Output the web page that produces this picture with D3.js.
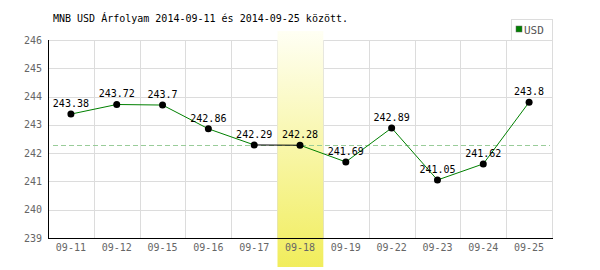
<!DOCTYPE html>
<html>
<head>
<meta charset="utf-8">
<script src="https://cdn.jsdelivr.net/npm/d3@7"></script>
<style>
  body { margin: 0; background: #fff; }
  svg text { font-family: "DejaVu Sans Mono", monospace; }
</style>
</head>
<body>
<svg id="chart"></svg>
<script>
// adatok
const dates = ["09-11", "09-12", "09-15", "09-16", "09-17", "09-18", "09-19", "09-22", "09-23", "09-24", "09-25"];
const rates = [243.38, 243.72, 243.7, 242.86, 242.29, 242.28, 241.69, 242.89, 241.05, 241.62, 243.8];
const yTicks = [239, 240, 241, 242, 243, 244, 245, 246];
const highlightDate = "09-18";
const refRate = 242.28;

const width = 600, height = 270;
const plotLeft = 48, plotRight = 552, plotTop = 40, plotBottom = 238;

const svg = d3.select("#chart").attr("width", width).attr("height", height);

const x = d3.scaleBand().domain(dates).range([plotLeft, plotRight]);
const y = d3.scaleLinear().domain([239, 246]).range([plotBottom, plotTop]);

// rácsvonalak
svg.append("g")
  .selectAll("line")
  .data(yTicks)
  .enter()
  .append("line")
  .attr("x1", plotLeft).attr("x2", plotRight)
  .attr("y1", d => Math.round(y(d)) + 0.5).attr("y2", d => Math.round(y(d)) + 0.5)
  .attr("stroke", "#dcdcdc");

svg.append("g")
  .selectAll("line")
  .data(dates)
  .enter()
  .append("line")
  .attr("x1", d => Math.round(x(d) + x.bandwidth()) + 0.5)
  .attr("x2", d => Math.round(x(d) + x.bandwidth()) + 0.5)
  .attr("y1", plotTop).attr("y2", plotBottom)
  .attr("stroke", "#dcdcdc");

// kiemelt nap
const grad = svg.append("defs").append("linearGradient")
  .attr("id", "hl").attr("x1", 0).attr("y1", 0).attr("x2", 0).attr("y2", 1);
grad.append("stop").attr("offset", "0%").attr("stop-color", "#fffff4");
grad.append("stop").attr("offset", "100%").attr("stop-color", "#f1ed5c");

svg.append("rect")
  .attr("x", Math.round(x(highlightDate)) + 0.5)
  .attr("y", 31)
  .attr("width", x.bandwidth())
  .attr("height", 236)
  .attr("fill", "url(#hl)");

// tengelyek
svg.append("line")
  .attr("x1", plotLeft + 0.5).attr("x2", plotLeft + 0.5)
  .attr("y1", plotTop).attr("y2", plotBottom + 1)
  .attr("stroke", "#000");
svg.append("line")
  .attr("x1", plotLeft).attr("x2", plotRight + 1)
  .attr("y1", plotBottom + 0.5).attr("y2", plotBottom + 0.5)
  .attr("stroke", "#000");

svg.append("g")
  .selectAll("text")
  .data(yTicks)
  .enter()
  .append("text")
  .attr("x", 42)
  .attr("y", d => y(d) + 3.5)
  .attr("text-anchor", "end")
  .attr("font-size", 10)
  .attr("fill", "#666")
  .text(d => d);

svg.append("g")
  .selectAll("text")
  .data(dates)
  .enter()
  .append("text")
  .attr("x", d => x(d) + x.bandwidth() / 2)
  .attr("y", 251)
  .attr("text-anchor", "middle")
  .attr("font-size", 10)
  .attr("fill", "#666")
  .text(d => d);

// referencia vonal
svg.append("line")
  .attr("x1", 53).attr("x2", 550)
  .attr("y1", Math.round(y(refRate)) + 0.5).attr("y2", Math.round(y(refRate)) + 0.5)
  .attr("stroke", "#99cc99")
  .attr("stroke-dasharray", "5,3");

// vonal szakaszok
const pts = dates.map((d, i) => ({ d: d, v: rates[i] }));
const hi = dates.indexOf(highlightDate);
svg.append("g")
  .selectAll("line")
  .data(pts.slice(1))
  .enter()
  .append("line")
  .attr("x1", (p, i) => x(pts[i].d) + x.bandwidth() / 2)
  .attr("y1", (p, i) => y(pts[i].v))
  .attr("x2", p => x(p.d) + x.bandwidth() / 2)
  .attr("y2", p => y(p.v))
  .attr("stroke", (p, i) => (i + 1 === hi ? "#000" : "#008000"))
  .attr("stroke-width", 1);

svg.append("g")
  .selectAll("circle")
  .data(pts)
  .enter()
  .append("circle")
  .attr("cx", p => x(p.d) + x.bandwidth() / 2)
  .attr("cy", p => y(p.v))
  .attr("r", 3.5)
  .attr("fill", "#000");

svg.append("g")
  .selectAll("text")
  .data(pts)
  .enter()
  .append("text")
  .attr("x", p => x(p.d) + x.bandwidth() / 2)
  .attr("y", p => y(p.v) - 7)
  .attr("text-anchor", "middle")
  .attr("font-size", 10)
  .attr("fill", "#000")
  .text(p => p.v);

// cím
svg.append("text")
  .attr("x", 53)
  .attr("y", 22)
  .attr("font-size", 10)
  .attr("fill", "#000")
  .text("MNB USD Árfolyam 2014-09-11 és 2014-09-25 között.");

// jelmagyarázat
svg.append("rect")
  .attr("x", 511.5).attr("y", 19.5)
  .attr("width", 41).attr("height", 21)
  .attr("fill", "#fff")
  .attr("stroke", "#dcdcdc");
svg.append("rect")
  .attr("x", 516).attr("y", 26)
  .attr("width", 6).attr("height", 6)
  .attr("fill", "#008000")
  .attr("stroke", "#666")
  .attr("stroke-width", 0.5);
svg.append("text")
  .attr("x", 524)
  .attr("y", 33.5)
  .attr("font-family", "'Liberation Sans', Arial, sans-serif")
  .attr("font-size", 11)
  .attr("fill", "#555")
  .text("USD");
</script>
</body>
</html>
